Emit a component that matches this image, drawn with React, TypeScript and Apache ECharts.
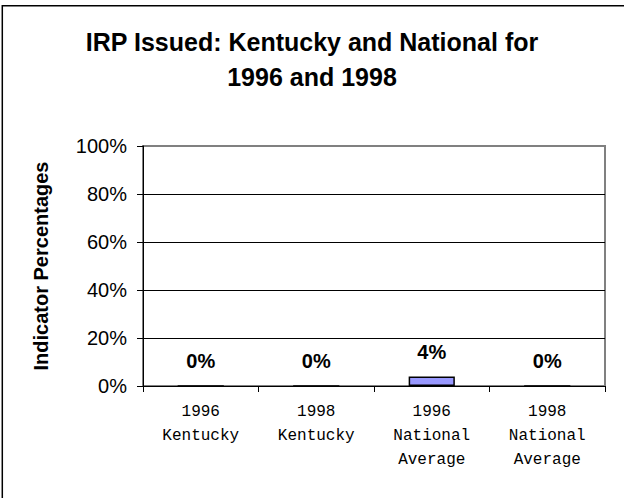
import React, { useEffect, useRef } from "react";
import * as echarts from "echarts";

const titleText = "IRP Issued: Kentucky and National for\n1996 and 1998";
const yAxisTitle = "Indicator Percentages";
const categories = [
  "1996\nKentucky",
  "1998\nKentucky",
  "1996\nNational\nAverage",
  "1998\nNational\nAverage",
];
const values = [0, 0, 0.04, 0];
const yMin = 0;
const yMax = 1;
const yStep = 0.2;

const SANS = "'Liberation Sans', Arial, sans-serif";
const MONO = "'Liberation Mono', 'Courier New', monospace";

export default function App() {
  const ref = useRef<HTMLDivElement>(null);
  useEffect(() => {
    document.body.style.margin = "0";
    if (!ref.current) return;
    const chart = echarts.init(ref.current, null, { renderer: "svg" });
    chart.setOption({
      animation: false,
      backgroundColor: "#ffffff",
      title: {
        text: titleText,
        left: "center",
        top: 19,
        textStyle: {
          fontFamily: SANS,
          fontWeight: "bold",
          fontSize: 25,
          lineHeight: 35,
          color: "#000",
        },
      },
      graphic: [
        {
          type: "rect",
          shape: { x: 2.3, y: 5.7, width: 640, height: 520 },
          style: { fill: "none", stroke: "#000", lineWidth: 1.5 },
          silent: true,
        },
      ],
      grid: {
        left: 143,
        right: 19,
        top: 146,
        bottom: 112,
        show: true,
        borderColor: "#808080",
        borderWidth: 2,
        backgroundColor: "transparent",
      },
      xAxis: {
        type: "category",
        data: categories,
        axisLine: { show: true, lineStyle: { color: "#000", width: 1 } },
        axisTick: { show: true, length: 6, alignWithLabel: false, lineStyle: { color: "#000" } },
        axisLabel: {
          fontFamily: MONO,
          fontSize: 16,
          lineHeight: 24,
          color: "#000",
          margin: 14,
          interval: 0,
        },
        splitLine: { show: false },
      },
      yAxis: {
        type: "value",
        min: yMin,
        max: yMax,
        interval: yStep,
        name: yAxisTitle,
        nameLocation: "middle",
        nameRotate: 90,
        nameGap: 92,
        nameTextStyle: {
          fontFamily: SANS,
          fontWeight: "bold",
          fontSize: 20,
          color: "#000",
        },
        axisLine: { show: true, lineStyle: { color: "#000", width: 1 } },
        axisTick: { show: true, length: 6, inside: false, lineStyle: { color: "#000" } },
        axisLabel: {
          fontFamily: SANS,
          fontSize: 20,
          color: "#000",
          margin: 16,
          formatter: (v: number) => Math.round(v * 100) + "%",
        },
        splitLine: {
          show: true,
          showMaxLine: false,
          lineStyle: { color: "#000", width: 1 },
        },
      },
      series: [
        {
          type: "bar",
          data: values,
          barWidth: "40%",
          itemStyle: { color: "#9999FF", borderColor: "#000", borderWidth: 1.5 },
          label: {
            show: true,
            position: "top",
            distance: 14,
            fontFamily: SANS,
            fontWeight: "bold",
            fontSize: 20,
            color: "#000",
            formatter: (p: any) => Math.round(p.value * 100) + "%",
          },
        },
      ],
    });
    return () => chart.dispose();
  }, []);
  return <div ref={ref} style={{ width: 624, height: 498 }} />;
}
